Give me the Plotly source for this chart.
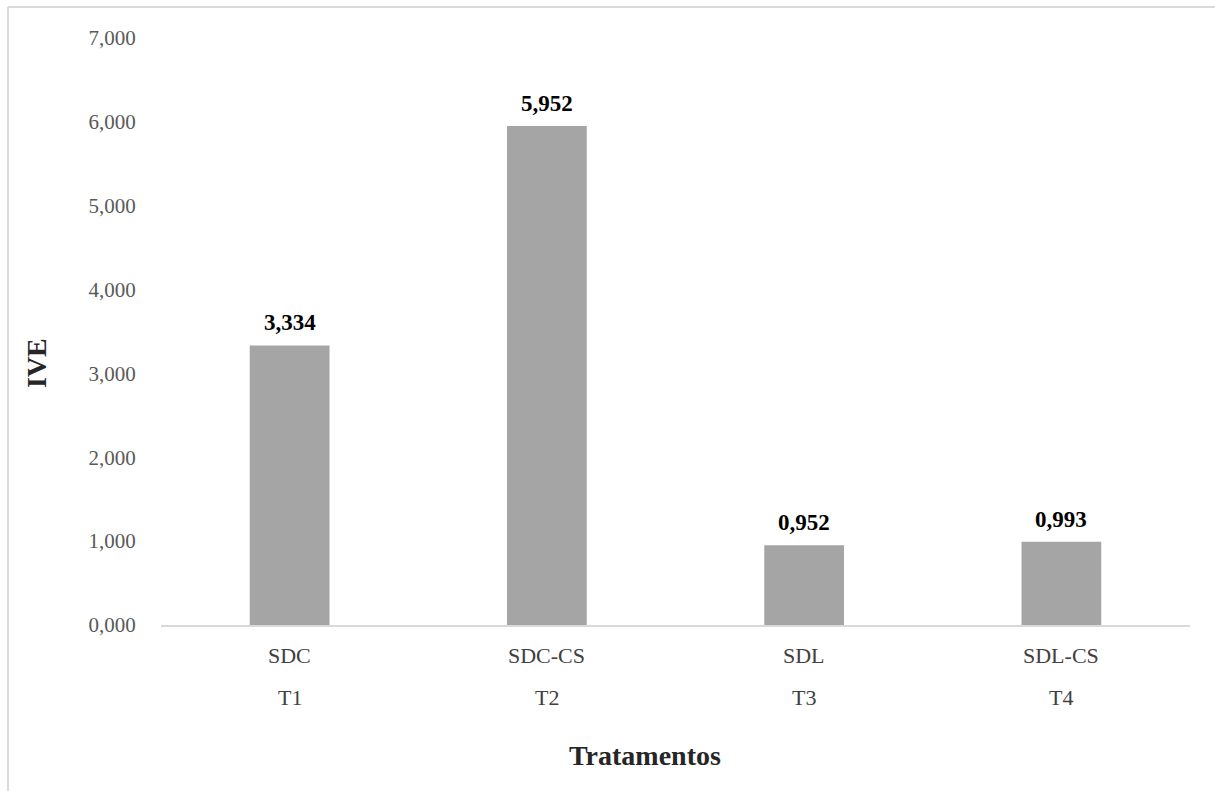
import plotly.graph_objects as go

# IVE per treatment
treatments = ["SDC", "SDC-CS", "SDL", "SDL-CS"]
codes = ["T1", "T2", "T3", "T4"]
ive = [3.334, 5.952, 0.952, 0.993]
y_ticks = [0, 1, 2, 3, 4, 5, 6, 7]

SERIF = "Liberation Serif, Times New Roman, serif"

fig = go.Figure()
fig.add_trace(go.Bar(
    x=treatments,
    y=ive,
    width=0.31,
    marker=dict(color="#A5A5A5", line=dict(width=0)),
    hoverinfo="skip",
))

annotations = []
# value labels above bars
for t, v in zip(treatments, ive):
    annotations.append(dict(
        x=t, y=v, xref="x", yref="y",
        text=f"{v:.3f}".replace(".", ","),
        showarrow=False, yanchor="bottom", yshift=8,
        font=dict(family=SERIF, size=23, color="#000000", weight="bold"),
    ))
# two-row category labels
for t, c in zip(treatments, codes):
    annotations.append(dict(
        x=t, y=0, xref="x", yref="paper", text=t, showarrow=False,
        yanchor="middle", yshift=-30,
        font=dict(family=SERIF, size=22, color="#404040"),
    ))
    annotations.append(dict(
        x=t, y=0, xref="x", yref="paper", text=c, showarrow=False,
        yanchor="middle", yshift=-72,
        font=dict(family=SERIF, size=22, color="#404040"),
    ))
# axis titles
annotations.append(dict(
    x=645, y=755, xref="paper", yref="paper", text="<b>Tratamentos</b>",
    showarrow=False, xanchor="center", yanchor="middle",
    font=dict(family=SERIF, size=28, color="#262626"),
))
annotations.append(dict(
    x=36, y=363, text="<b>IVE</b>", showarrow=False, textangle=-90,
    xanchor="center", yanchor="middle",
    font=dict(family=SERIF, size=28, color="#262626"),
))

# convert pixel-placed titles to paper coordinates
W, H = 1215, 791
L, R, T, B = 161, 25, 38, 166
pw, ph = W - L - R, H - T - B
for a in annotations[-2:]:
    px, py = a["x"], a["y"]
    a["x"] = (px - L) / pw
    a["y"] = (H - B - py) / ph
    a["xref"] = "paper"
    a["yref"] = "paper"

fig.update_layout(
    width=W, height=H,
    margin=dict(l=L, r=R, t=T, b=B),
    paper_bgcolor="white",
    plot_bgcolor="white",
    separators=",.",
    showlegend=False,
    bargap=0.69,
    annotations=annotations,
    shapes=[
        dict(type="line", xref="paper", yref="paper",
             x0=(8 - L) / pw, x1=(W - L) / pw,
             y0=(H - B - 7) / ph, y1=(H - B - 7) / ph,
             line=dict(color="#D9D9D9", width=2)),
        dict(type="line", xref="paper", yref="paper",
             x0=(8 - L) / pw, x1=(8 - L) / pw,
             y0=(H - B - 7) / ph, y1=-B / ph,
             line=dict(color="#D9D9D9", width=2)),
    ],
    xaxis=dict(
        showticklabels=False, showgrid=False, zeroline=False,
        showline=True, linecolor="#D9D9D9", linewidth=2,
        ticks="",
    ),
    yaxis=dict(
        range=[0, 7], tickvals=y_ticks, tickformat=".3f",
        showgrid=False, zeroline=False, showline=False,
        ticks="outside", ticklen=20, tickcolor="rgba(0,0,0,0)",
        tickfont=dict(family=SERIF, size=21, color="#595959"),
    ),
)

fig.write_html("out.html")
